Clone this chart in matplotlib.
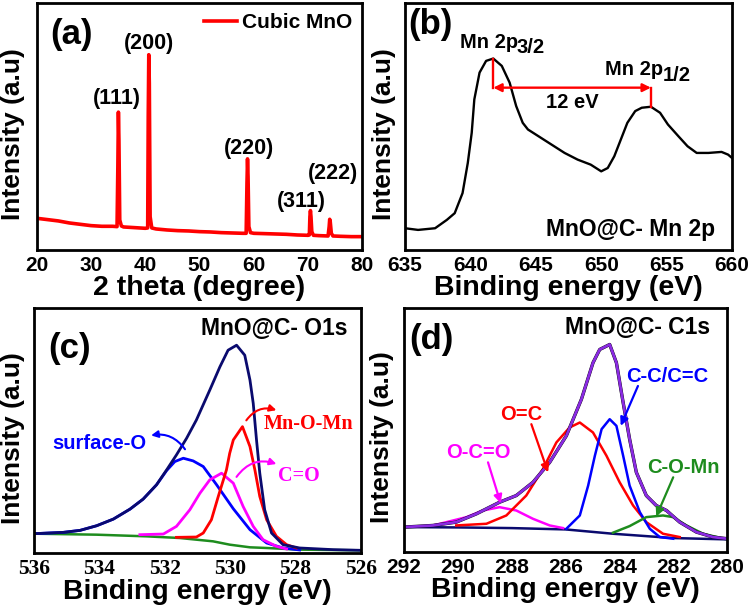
import matplotlib
matplotlib.use('Agg')
import matplotlib.pyplot as plt

plt.rcParams['font.family'] = ['Liberation Sans', 'DejaVu Sans']
plt.rcParams['font.weight'] = 'bold'
plt.rcParams['axes.labelweight'] = 'bold'

# (a) XRD pattern
xrd_2theta = [20, 22, 24, 26, 28, 30, 32, 34, 34.8, 34.95, 35.05, 35.15, 35.3, 35.6, 36, 38, 40,
              40.45, 40.55, 40.65, 40.75, 40.9, 41.2, 42, 44, 46, 48, 50, 52, 54, 56, 58,
              58.6, 58.75, 58.85, 58.95, 59.1, 59.4, 60, 62, 64, 66, 68, 70,
              70.25, 70.35, 70.45, 70.55, 70.7, 71, 72, 73.7, 73.9, 74.0, 74.1, 74.3, 74.6, 76, 78, 80]
xrd_int = [95, 91, 87, 81, 77, 73, 71, 71, 70, 250, 413, 330, 90, 72, 69, 67, 65,
           66, 400, 585, 500, 100, 66, 63, 60, 58, 57, 55, 54, 52, 51, 50,
           50, 200, 273, 220, 70, 52, 50, 49, 48, 47, 45, 44,
           45, 100, 118, 100, 55, 44, 43, 42, 70, 92, 85, 50, 42, 41, 40, 40]
hkl_labels = ['(111)', '(200)', '(220)', '(311)', '(222)']
hkl_pos = [(34.7, 455), (40.7, 620), (59.2, 305), (68.7, 145), (74.7, 230)]

# (b) Mn 2p spectrum
mn_be = [635.0, 636.0, 637.3, 638.2, 638.8, 639.4, 639.8, 640.1, 640.3, 640.7, 641.2, 641.75,
         642.4, 643.0, 643.5, 644.0, 644.4, 645.2, 646.2, 647.2, 648.2, 649.2, 650.0, 650.5,
         651.0, 651.5, 652.0, 652.6, 653.1, 653.8, 654.5, 655.1, 655.9, 656.6, 657.3, 658.2,
         659.2, 659.7, 660.0]
mn_int = [65, 60, 65, 90, 110, 170, 260, 350, 450, 530, 565, 572,
          550, 500, 430, 380, 360, 340, 315, 290, 270, 255, 235, 245,
          280, 330, 380, 415, 425, 428, 410, 375, 340, 310, 290, 290,
          293, 285, 275]

# (c) O 1s spectrum
o_env_be = [536.0, 535.10, 534.59, 534.08, 533.57, 533.06, 532.66, 532.25, 531.94, 531.64, 531.33,
            531.03, 530.62, 530.31, 530.06, 529.80, 529.55, 529.39, 529.29, 529.19, 529.09,
            528.94, 528.73, 528.38, 527.87, 526.85, 526.0]
o_env = [58, 62, 68, 82, 102, 132, 162, 205, 250, 295, 345,
         400, 490, 560, 610, 625, 595, 520, 450, 340, 240,
         130, 60, 25, 15, 10, 8]
o_surf_be = [536.0, 535.10, 534.59, 534.08, 533.57, 533.06, 532.66, 532.25, 531.94, 531.69, 531.43,
             531.13, 530.82, 530.41, 529.90, 529.39, 528.88, 528.38, 527.87]
o_surf = [58, 62, 68, 82, 102, 132, 162, 205, 248, 275, 285,
          277, 260, 205, 133, 70, 30, 15, 9]
o_co_be = [532.76, 532.04, 531.64, 531.23, 530.92, 530.62, 530.26, 529.90, 529.60, 529.29, 528.99,
           528.58, 528.27]
o_co = [55, 57, 80, 130, 180, 220, 240, 210, 140, 80, 40, 20, 12]
o_mno_be = [531.64, 531.03, 530.82, 530.57, 530.36, 530.11, 530.01, 529.90, 529.62, 529.39, 529.24,
            529.09, 528.88, 528.58, 528.27, 527.97]
o_mno = [47, 48, 60, 100, 170, 250, 300, 340, 380, 320, 250, 170, 100, 50, 25, 15]
o_bg_be = [536.0, 534.08, 532.55, 531.54, 530.52, 530.01, 529.39, 528.88, 527.87, 526.0]
o_bg = [58, 55, 50, 45, 35, 25, 17, 15, 10, 8]

# (d) C 1s spectrum
c_env_be = [292.0, 290.92, 290.06, 289.31, 288.45, 287.83, 287.21, 286.59, 285.97, 285.41, 284.98,
            284.73, 284.36, 284.11, 283.86, 283.62, 283.37, 283.0, 282.63, 282.25, 281.76,
            281.14, 280.52, 280.0]
c_env = [75, 80, 90, 115, 150, 170, 210, 270, 350, 460, 570,
         610, 625, 570, 450, 340, 240, 170, 140, 125, 90,
         60, 45, 40]
c_oc_be = [290.06, 288.94, 288.20, 287.46, 286.84, 286.34, 285.85, 285.47, 284.98, 284.48, 283.99,
           283.49, 283.0, 282.38, 281.76]
c_oc = [80, 85, 110, 170, 250, 330, 375, 390, 360, 290, 210, 140, 90, 55, 45]
c_cc_be = [285.97, 285.47, 285.16, 284.91, 284.66, 284.36, 284.11, 283.86, 283.62, 283.24, 282.87,
           282.50, 282.0]
c_cc = [70, 110, 200, 290, 370, 400, 380, 290, 200, 120, 70, 45, 40]
c_oco_be = [290.92, 289.68, 289.07, 288.45, 287.83, 287.21, 286.59, 286.09]
c_oco = [80, 105, 125, 135, 125, 100, 80, 72]
c_com_be = [284.24, 283.62, 283.0, 282.38, 282.0, 281.51, 280.89, 280.27]
c_com = [58, 78, 105, 110, 105, 80, 55, 43]
c_bg_be = [292.0, 290.0, 288.0, 286.0, 284.24, 282.0, 280.0]
c_bg = [75, 74, 72, 68, 55, 42, 38]


def style_axes(ax, xlim, ylim, xticks, ylab_x, tick_family=None):
    ax.set_xlim(*xlim)
    ax.set_ylim(*ylim)
    ax.set_xticks(xticks)
    ax.set_yticks([])
    ax.tick_params(axis='x', length=0, pad=4, labelsize=15)
    if tick_family:
        for lab in ax.get_xticklabels():
            lab.set_family(tick_family)
            lab.set_fontsize(15.5)
    for sp in ax.spines.values():
        sp.set_linewidth(2)
    ax.set_ylabel('Intensity (a.u)', fontsize=19)
    ax.yaxis.set_label_coords(ylab_x, 0.47)


fig = plt.figure(figsize=(7.5, 6.09), dpi=100)
ax_a = fig.add_axes([0.049, 0.5895, 0.434, 0.4056])
ax_b = fig.add_axes([0.540, 0.5895, 0.436, 0.4056])
ax_c = fig.add_axes([0.0453, 0.092, 0.4357, 0.4023])
ax_d = fig.add_axes([0.5387, 0.0936, 0.4307, 0.4007])

# (a)
ax_a.plot(xrd_2theta, xrd_int, color='red', lw=2.6, label='Cubic MnO')
style_axes(ax_a, (20, 80), (0, 740), range(20, 81, 10), -0.037)
ax_a.set_xlabel('2 theta (degree)', fontsize=20.5, labelpad=0)
for lab, (x, y) in zip(hkl_labels, hkl_pos):
    ax_a.text(x, y, lab, fontsize=15.5, ha='center', va='center')
ax_a.text(22.4, 645, '(a)', fontsize=25, ha='left', va='center')
ax_a.legend(loc='upper right', frameon=False, fontsize=15, handlelength=1.6,
            handletextpad=0.2, borderaxespad=0.1)

# (b)
ax_b.plot(mn_be, mn_int, color='black', lw=1.7)
style_axes(ax_b, (635, 660), (0, 738), range(635, 661, 5), -0.0275)
ax_b.set_xlabel('Binding energy (eV)', fontsize=20.5, labelpad=0)
i1 = mn_int.index(max(mn_int))
hi = [k for k in range(len(mn_be)) if mn_be[k] > 650]
i2 = max(hi, key=lambda k: mn_int[k])
x1, y1 = mn_be[i1], mn_int[i1]
x2, y2 = mn_be[i2], mn_int[i2]
y_arrow = 485
ax_b.plot([x1, x1], [y1, y_arrow], color='red', lw=1.7)
ax_b.plot([x2, x2], [y_arrow, y2], color='red', lw=1.7)
ax_b.annotate('', xy=(x1, y_arrow), xytext=(x2, y_arrow),
              arrowprops=dict(arrowstyle='<|-|>', color='red', lw=1.7,
                              shrinkA=0, shrinkB=0, mutation_scale=12))
ax_b.text((x1 + x2) / 2, 440, '%d eV' % round(x2 - x1), fontsize=14.5, ha='center', va='center')
ax_b.text(639.2, 620, 'Mn 2p', fontsize=14.5, ha='left', va='center')
ax_b.text(643.5, 604, '3/2', fontsize=14.5, ha='left', va='center')
ax_b.text(650.3, 540, 'Mn 2p', fontsize=14.5, ha='left', va='center')
ax_b.text(654.7, 522, '1/2', fontsize=14.5, ha='left', va='center')
ax_b.text(658.7, 60, 'MnO@C- Mn 2p', fontsize=16.5, ha='right', va='center')
ax_b.text(635.25, 675, '(b)', fontsize=25, ha='left', va='center')

# (c)
ax_c.plot(o_bg_be, o_bg, color='#1e8c1e', lw=1.8)
ax_c.plot(o_surf_be, o_surf, color='#0000ff', lw=2)
ax_c.plot(o_co_be, o_co, color='#ff00ff', lw=2)
ax_c.plot(o_mno_be, o_mno, color='#ff0000', lw=2)
ax_c.plot(o_env_be, o_env, color='#0a0a6e', lw=2)
style_axes(ax_c, (536, 526), (0, 737), range(536, 525, -2), -0.0275, tick_family='Liberation Serif')
ax_c.set_xlabel('Binding energy (eV)', fontsize=20.5, labelpad=0)
ax_c.text(535.56, 615, '(c)', fontsize=25, ha='left', va='center')
ax_c.text(526.4, 675, 'MnO@C- O1s', fontsize=16.5, ha='right', va='center')
ax_c.text(533.99, 330, 'surface-O', fontsize=14.5, color='#0000ff', ha='center', va='center')
ax_c.annotate('', xy=(532.5, 352), xytext=(531.33, 305),
              arrowprops=dict(arrowstyle='-|>', color='#0000ff', lw=1.5,
                              connectionstyle='arc3,rad=0.35', mutation_scale=10))
ax_c.text(527.6, 387, 'Mn-O-Mn', fontsize=14.5, color='#ff0000', family='Liberation Serif',
          ha='center', va='center')
ax_c.annotate('', xy=(528.5, 427), xytext=(529.55, 392),
              arrowprops=dict(arrowstyle='-|>', color='#ff0000', lw=1.5,
                              connectionstyle='arc3,rad=-0.4', mutation_scale=10))
ax_c.text(527.9, 233, 'C=O', fontsize=14.5, color='#ff00ff', family='Liberation Serif',
          ha='center', va='center')
ax_c.annotate('', xy=(528.5, 265), xytext=(529.85, 222),
              arrowprops=dict(arrowstyle='-|>', color='#ff00ff', lw=1.5,
                              connectionstyle='arc3,rad=-0.4', mutation_scale=10))

# (d)
ax_d.plot(c_bg_be, c_bg, color='#0a0a6e', lw=1.8)
ax_d.plot(c_oco_be, c_oco, color='#ff00ff', lw=1.8)
ax_d.plot(c_oc_be, c_oc, color='#ff0000', lw=1.8)
ax_d.plot(c_cc_be, c_cc, color='#0000ff', lw=1.8)
ax_d.plot(c_com_be, c_com, color='#1e8c1e', lw=1.8)
ax_d.plot(c_env_be, c_env, color='black', lw=2.4)
ax_d.plot(c_env_be, c_env, color='#8a2be2', lw=2)
style_axes(ax_d, (292, 280), (0, 735), range(292, 279, -2), -0.031)
ax_d.set_xlabel('Binding energy (eV)', fontsize=20.5, labelpad=0)
ax_d.text(291.79, 640, '(d)', fontsize=25, ha='left', va='center')
ax_d.text(280.64, 675, 'MnO@C- C1s', fontsize=16.5, ha='right', va='center')
notes_d = [('O=C', '#ff0000', (287.64, 415), (287.27, 385), (286.65, 240)),
           ('O-C=O', '#ff00ff', (289.23, 300), (288.88, 270), (288.41, 147)),
           ('C-C/C=C', '#0000ff', (282.23, 530), (283.31, 500), (283.95, 380)),
           ('C-O-Mn', '#1e8c1e', (281.63, 255), (282.0, 225), (282.63, 107))]
for lab, col, tpos, a0, a1 in notes_d:
    ax_d.text(tpos[0], tpos[1], lab, fontsize=14.5, color=col, ha='center', va='center')
    ax_d.annotate('', xy=a1, xytext=a0,
                  arrowprops=dict(arrowstyle='-|>', color=col, lw=1.6,
                                  shrinkA=0, shrinkB=0, mutation_scale=12))

fig.savefig('out.png', dpi=100)
